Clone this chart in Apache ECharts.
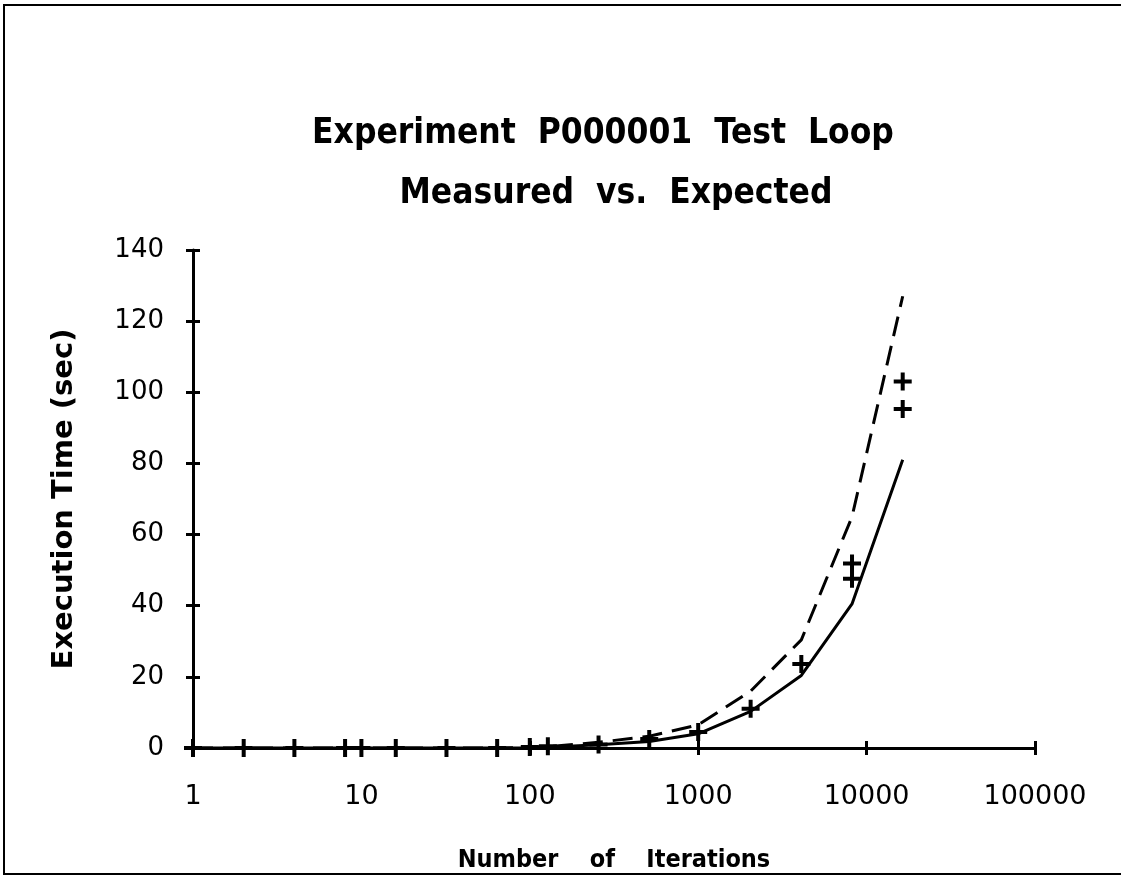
<!DOCTYPE html>
<html>
<head>
<meta charset="utf-8">
<script src="https://cdn.jsdelivr.net/npm/echarts@6/dist/echarts.min.js"></script>
<style>
html,body{margin:0;padding:0;background:#fff;}
#chart{width:1121px;height:878px;}
</style>
</head>
<body>
<div id="chart"></div>
<script>
// ---- data ----
const iterations = [1,2,4,8,10,16,32,64,100,128,256,512,1000,2048,4096,8192,16384];
const expectedSolid  = [0,0,0,0,0,0,0,0,0.1,0.2,0.9,1.8,4.0,10.3,20.4,40.5,81.0];
const expectedDashed = [0,0,0,0,0,0,0,0,0.2,0.4,1.6,3.3,6.5,16.0,30.4,65.0,127.0];
const measuredX = [1,2,4,8,10,16,32,64,100,128,256,512,1000,2048,4096,8192,8192,16384,16384];
const measuredY = [0,0,0,0,0,0,0,0,0.3,0.5,1.0,2.5,4.5,11.0,23.6,47.6,51.9,95.3,103.0];
const xTickValues = [1,10,100,1000,10000,100000];
const yTickValues = [0,20,40,60,80,100,120,140];
const titleLines = ['Experiment  P000001  Test  Loop','Measured  vs.  Expected'];
const xTitle = 'Number    of    Iterations';
const yTitle = 'Execution Time (sec)';

const chart = echarts.init(document.getElementById('chart'), null, {renderer:'canvas'});
const labelFont = "'DejaVu Sans', sans-serif";
const titleFont = "'Liberation Sans Narrow', 'DejaVu Sans Condensed', sans-serif";
const plus = 'path://M7,0H11V7H18V11H11V18H7V11H0V7H7Z';
const pair = (xs, ys) => xs.map((x,i)=>[x, ys[i]]);

const axisCommonX = {
  type:'log', logBase:10, min:1, max:100000, splitLine:{show:false}
};
const axisCommonY = {
  type:'value', min:0, max:140, interval:20, splitLine:{show:false}
};

chart.setOption({
  animation:false,
  backgroundColor:'#fff',
  grid:{left:193, right:86, top:250, bottom:117, containLabel:false},
  graphic:[
    {type:'rect', shape:{x:4, y:5, width:1125, height:869},
     style:{fill:'none', stroke:'#000', lineWidth:2}, z:-1},
    {type:'text', style:{text:titleLines[0], x:603, y:134, textAlign:'center', textVerticalAlign:'middle',
      fontSize:35, fontWeight:'bold', fontFamily:titleFont, fill:'#000'}},
    {type:'text', style:{text:titleLines[1], x:616, y:194, textAlign:'center', textVerticalAlign:'middle',
      fontSize:35, fontWeight:'bold', fontFamily:titleFont, fill:'#000'}}
  ],
  xAxis:[
    Object.assign({}, axisCommonX, {
      position:'bottom',
      name:xTitle, nameLocation:'middle', nameGap:100,
      nameTextStyle:{fontSize:25, fontWeight:'bold', fontFamily:titleFont, color:'#000'},
      axisLine:{show:true, lineStyle:{color:'#000', width:3}},
      axisTick:{show:true, inside:false, length:7, lineStyle:{color:'#000', width:3}},
      axisLabel:{show:true, margin:35, fontSize:27, fontFamily:labelFont, color:'#000',
        formatter:(v)=>{ const t = xTickValues.find(k=>Math.abs(k-v)/k<1e-6); return t!==undefined? String(t):''; }}
    }),
    Object.assign({}, axisCommonX, {
      position:'bottom', gridIndex:0,
      axisLine:{show:false},
      axisTick:{show:true, inside:true, length:7, lineStyle:{color:'#000', width:3}},
      axisLabel:{show:false}
    })
  ],
  yAxis:[
    Object.assign({}, axisCommonY, {
      position:'left',
      name:yTitle, nameLocation:'middle', nameGap:114, nameRotate:90,
      nameTextStyle:{fontSize:29, fontWeight:'bold', fontFamily:"'DejaVu Sans', sans-serif", color:'#000'},
      axisLine:{show:true, lineStyle:{color:'#000', width:3}},
      axisTick:{show:true, inside:false, length:7, lineStyle:{color:'#000', width:3}},
      axisLabel:{show:true, margin:29, fontSize:26, fontFamily:labelFont, color:'#000',
        formatter:(v)=> yTickValues.includes(v)? String(v):''}
    }),
    Object.assign({}, axisCommonY, {
      position:'left', gridIndex:0,
      axisLine:{show:false},
      axisTick:{show:true, inside:true, length:7, lineStyle:{color:'#000', width:3}},
      axisLabel:{show:false}
    })
  ],
  series:[
    {type:'line', name:'Expected (solid)', data:pair(iterations, expectedSolid),
     showSymbol:false, symbol:'none', lineStyle:{color:'#000', width:3, type:'solid'}, z:3},
    {type:'line', name:'Expected (dashed)', data:pair(iterations, expectedDashed),
     showSymbol:false, symbol:'none', lineStyle:{color:'#000', width:3, type:[20,10]}, z:3},
    {type:'scatter', name:'Measured', data:pair(measuredX, measuredY),
     symbol:plus, symbolSize:18, itemStyle:{color:'#000', opacity:1}, z:4}
  ]
});
</script>
</body>
</html>
